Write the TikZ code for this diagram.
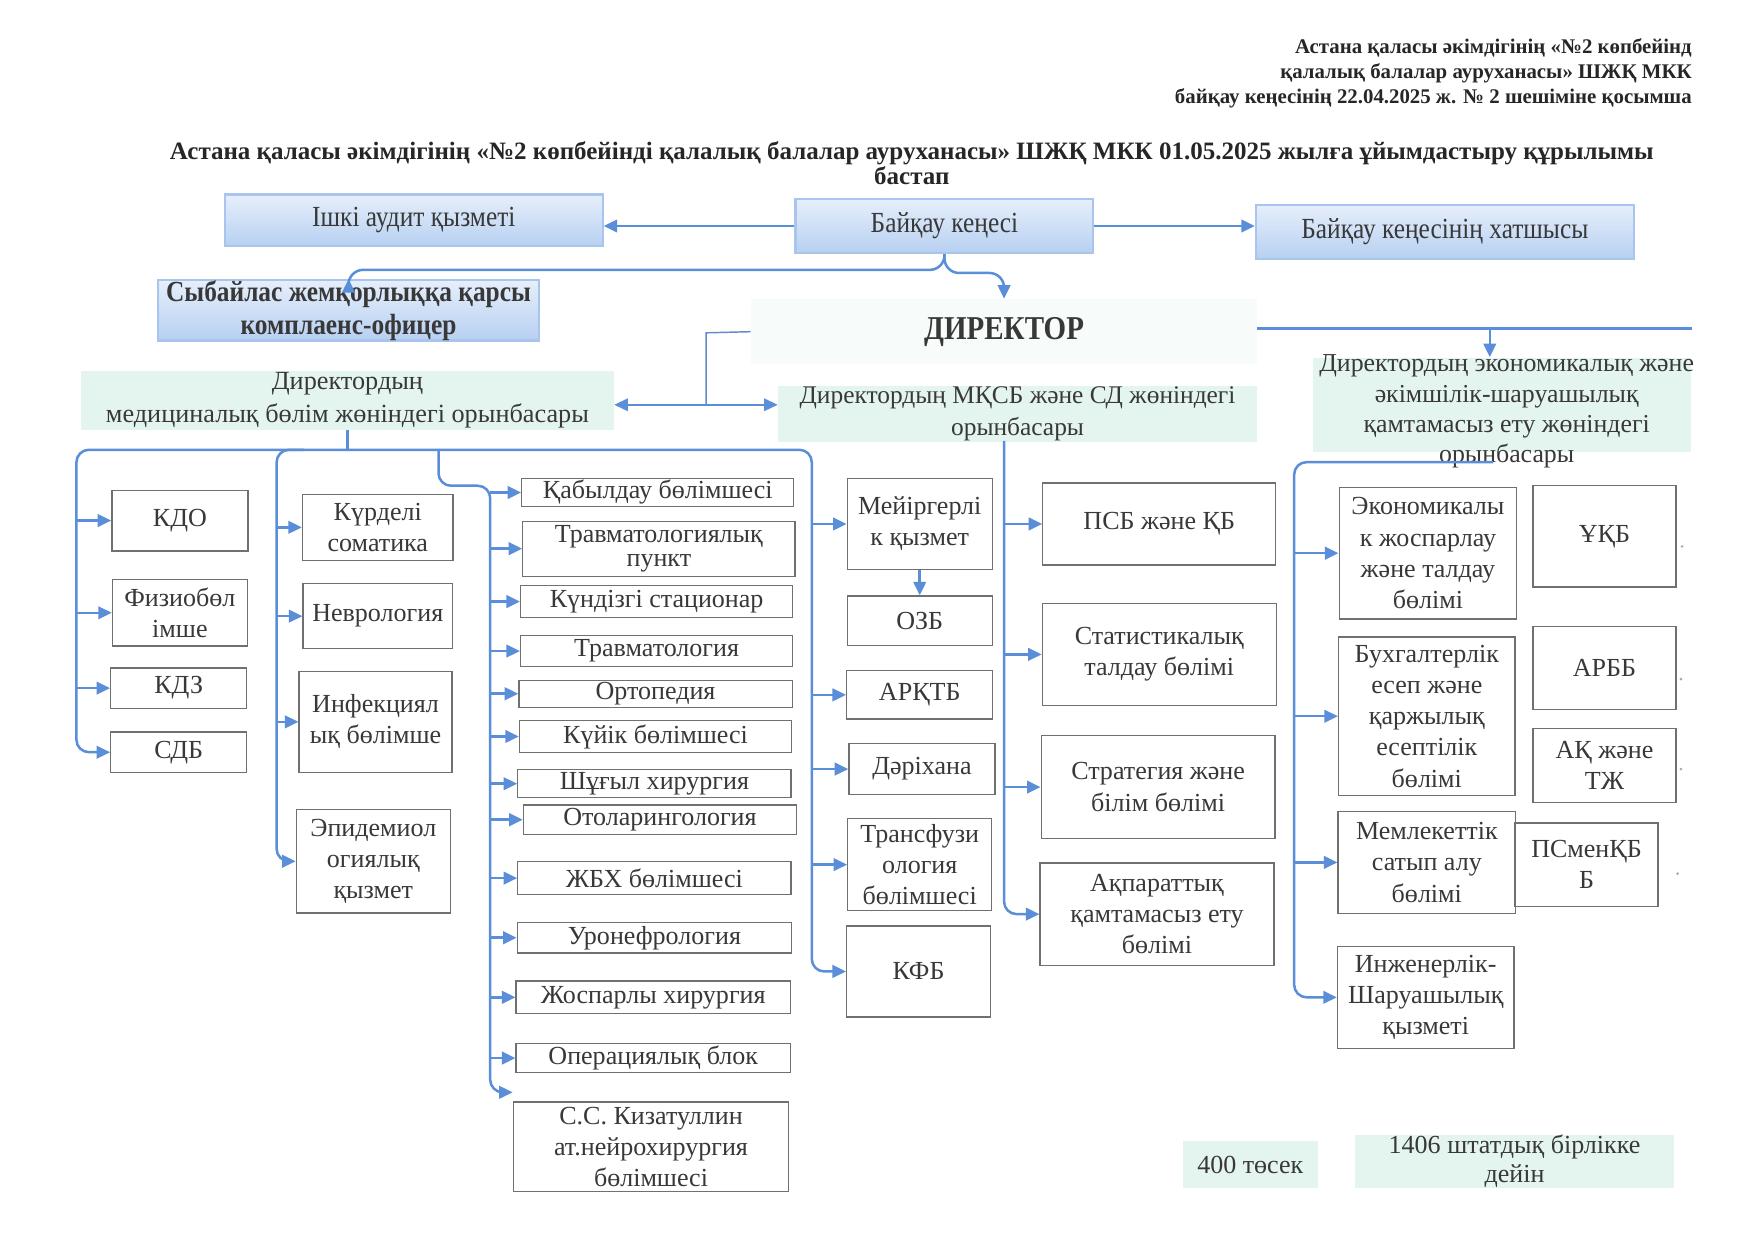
\documentclass[tikz,border=0pt]{standalone}
\usepackage{fontspec}
\setmainfont{Liberation Serif}
\newfontfamily\narrowfont[FakeStretch=0.87]{Liberation Serif}
\usetikzlibrary{arrows.meta}

\definecolor{lineblue}{HTML}{5A8ED8}
\definecolor{boxgray}{HTML}{707070}
\definecolor{txtgray}{HTML}{383838}
\definecolor{mint}{HTML}{E4F5EF}
\definecolor{skytop}{HTML}{E6EFFB}
\definecolor{skybot}{HTML}{B7D0F1}
\definecolor{skyedge}{HTML}{A9C5EE}

\tikzset{
  unit/.style 2 args={draw=boxgray, line width=0.6pt, text=txtgray, align=center,
    inner sep=0pt, minimum width=#1*0.5398pt, minimum height=#2*0.5398pt,
    font=\fontsize{12.5}{15}\selectfont},
  sky/.style 2 args={draw=skyedge, line width=1pt, top color=skytop, bottom color=skybot,
    text=txtgray, align=center, inner sep=0pt, minimum width=#1*0.5398pt,
    minimum height=#2*0.5398pt, font=\narrowfont\fontsize{14}{16}\selectfont},
  deputy/.style={text=txtgray, align=center, inner sep=0pt,
    font=\fontsize{12.6}{15.6}\selectfont},
  arr/.style={draw=lineblue, line width=1.2pt, -{Triangle[length=6.5pt,width=6pt]}},
  arrtwo/.style={draw=lineblue, line width=1.2pt,
    {Triangle[length=6.5pt,width=6pt]}-{Triangle[length=6.5pt,width=6pt]}},
  thinl/.style={draw=lineblue!85!gray, line width=0.7pt}
}

\begin{document}
\begin{tikzpicture}[x=0.5398pt, y=-0.5398pt]
  \fill[white] (0,0) rectangle (1560,1104);
  \useasboundingbox (0,0) rectangle (1560,1104);

  %header
  \node[anchor=north east, align=right, text=black!85, inner sep=0pt,
    font=\bfseries\fontsize{10}{11.9}\selectfont] (hdr) at (1505,34)
    {Астана қаласы әкімдігінің «№2 көпбейінд\\қалалық балалар ауруханасы» ШЖҚ МКК\\байқау кеңесінің 22.04.2025 ж. № 2 шешіміне қосымша};
  \node[align=center, text=black!85, inner sep=0pt,
    font=\bfseries\fontsize{12}{11.9}\selectfont] (title) at (811,145)
    {Астана қаласы әкімдігінің «№2 көпбейінді қалалық балалар ауруханасы» ШЖҚ МКК 01.05.2025 жылға ұйымдастыру құрылымы\\бастап};

  %top boxes
  \node[sky={336}{46}] (audit) at (368,196) {Ішкі аудит қызметі};
  \node[sky={265}{48}] (kenes) at (840,201) {Байқау кеңесі};
  \node[sky={336}{48}] (hatshy) at (1285,206) {Байқау кеңесінің хатшысы};
  \node[sky={339}{52}, font=\narrowfont\bfseries\fontsize{14}{16}\selectfont] (komp) at (310,276)
    {Сыбайлас жемқорлыққа қарсы\\комплаенс-офицер};

  %director and deputies
  \node[fill=mint!30, minimum width=450*0.5398pt, minimum height=58*0.5398pt, inner sep=0pt,
    text=txtgray, font=\narrowfont\bfseries\fontsize{16}{18}\selectfont] (dir) at (893,295) {ДИРЕКТОР};
  \node[deputy, fill=mint, minimum width=474*0.5398pt, minimum height=52*0.5398pt] (med) at (309,356)
    {Директордың\\медициналық бөлім жөніндегі орынбасары};
  \node[deputy, fill=mint, minimum width=426*0.5398pt, minimum height=50*0.5398pt,
    font=\fontsize{12.2}{15}\selectfont] (mksb) at (905,368)
    {Директордың МҚСБ және СД жөніндегі\\орынбасары};
  \node[fill=mint, minimum width=336*0.5398pt, minimum height=84*0.5398pt, inner sep=0pt] (econbg) at (1336,360) {};
  \node[deputy, font=\fontsize{12.4}{14.6}\selectfont] (econ) at (1340,366)
    {Директордың экономикалық және\\әкімшілік-шаруашылық\\қамтамасыз ету жөніндегі\\орынбасары};

  %medical units
  \node[unit={121}{54}] (kdo) at (160,463) {КДО};
  \node[unit={120}{59}] (fizio) at (160,545) {Физиобөл\\імше};
  \node[unit={121}{36}] (kdz) at (159,612) {КДЗ};
  \node[unit={121}{36}] (sdb) at (159,669) {СДБ};
  \node[unit={134}{59}] (kurdeli) at (336,469) {Күрделі\\соматика};
  \node[unit={133}{58}] (nevro) at (336,548) {Неврология};
  \node[unit={136}{90}] (infek) at (334,642) {Инфекциял\\ық бөлімше};
  \node[unit={137}{92}] (epid) at (332,766) {Эпидемиол\\огиялық\\қызмет};
  \node[unit={242}{25}] (kab) at (585,438) {Қабылдау бөлімшесі};
  \node[unit={242}{49}, font=\fontsize{12.5}{11.8}\selectfont] (trpunkt) at (586,488) {Травматологиялық\\пункт};
  \node[unit={242}{29}] (kunde) at (584,535) {Күндізгі стационар};
  \node[unit={242}{27}] (travm) at (584,579) {Травматология};
  \node[unit={243}{24}] (orto) at (583,617) {Ортопедия};
  \node[unit={242}{29}] (kuiik) at (583,655) {Күйік бөлімшесі};
  \node[unit={243}{25}] (shugyl) at (582,697) {Шұғыл хирургия};
  \node[unit={243}{26}] (otol) at (587,729) {Отоларингология};
  \node[unit={243}{29}] (zhbh) at (582,781) {ЖБХ бөлімшесі};
  \node[unit={244}{27}] (urone) at (582,834) {Уронефрология};
  \node[unit={244}{29}] (zhosp) at (581,887) {Жоспарлы хирургия};
  \node[unit={244}{26}] (oper) at (581,941) {Операциялық блок};
  \node[unit={245}{80}] (kiz) at (579,1020) {С.С. Кизатуллин\\ат.нейрохирургия\\бөлімшесі};
  \node[unit={129}{81}] (meir) at (818,466) {Мейіргерлі\\к қызмет};
  \node[unit={129}{44}] (ozb) at (818,552) {ОЗБ};
  \node[unit={130}{43}] (arktb) at (818,618) {АРҚТБ};
  \node[unit={130}{45}] (dari) at (820,684) {Дәріхана};
  \node[unit={128}{82}] (trans) at (818,769) {Трансфузи\\ология\\бөлімшесі};
  \node[unit={128}{81}] (kfb) at (817,864) {КФБ};

  %MKSB units
  \node[unit={207}{73}] (psb) at (1031,466) {ПСБ және ҚБ};
  \node[unit={208}{91}] (stat) at (1031,582) {Статистикалық\\талдау бөлімі};
  \node[unit={208}{92}] (strat) at (1030,700) {Стратегия және\\білім бөлімі};
  \node[unit={208}{91}] (akp) at (1029,813) {Ақпараттық\\қамтамасыз ету\\бөлімі};

  %economic units
  \node[unit={158}{117}] (ekon) at (1270,492) {Экономикалы\\к жоспарлау\\және талдау\\бөлімі};
  \node[unit={157}{141}] (buh) at (1269,637) {Бухгалтерлік\\есеп және\\қаржылық\\есептілік\\бөлімі};
  \node[unit={158}{91}] (memle) at (1269,767) {Мемлекеттік\\сатып алу\\бөлімі};
  \node[unit={157}{91}] (inzh) at (1268,887) {Инженерлік-\\Шаруашылық\\қызметі};
  \node[unit={127}{90}] (ukb) at (1427,477) {ҰҚБ};
  \node[unit={127}{74}] (arbb) at (1427,594) {АРББ};
  \node[unit={127}{66}] (akzhe) at (1427,681) {АҚ және\\ТЖ};
  \node[unit={127}{74}] (psmen) at (1411,769) {ПСменҚБ\\Б};

  %totals
  \node[fill=mint, text=txtgray, inner sep=0pt, minimum width=120*0.5398pt, minimum height=42*0.5398pt,
    font=\fontsize{12.5}{15}\selectfont] (beds) at (1112,1036) {400 төсек};
  \node[fill=mint, text=txtgray, inner sep=0pt, align=center, minimum width=283*0.5398pt,
    minimum height=42*0.5398pt, font=\fontsize{12.5}{14}\selectfont] (staff) at (1347,1033)
    {1406 штатдық бірлікке\\дейін};

  %top links
  \draw[arr] (kenes.west) -- (kenes.west -| audit.east);
  \draw[arr] (kenes.east) -- (kenes.east -| hatshy.west);
  \coordinate (brace) at (840,240);
  \draw[arr, rounded corners=7pt] (kenes.south) -- (brace) -- (brace -| komp.north) -- (komp.north);
  \draw[arr, rounded corners=7pt] (kenes.south) -- ([yshift=-1.5pt]brace) -- ([yshift=-1.5pt]brace -| dir.north) -- (dir.north);

  %director links
  \coordinate (dleft) at (628,296);
  \coordinate (dj) at (628,360);
  \draw[thinl] (dir.west) -- (dleft) -- (dj);
  \draw[arrtwo, line width=0.7pt] (med.east |- dj) -- (mksb.west |- dj);
  \coordinate (dright) at (1505,292);
  \coordinate (edown) at (1325,292);
  \draw[draw=lineblue, line width=1.2pt] (dir.east |- dright) -- (dright);
  \draw[arr] (edown) -- (edown |- econbg.north);

  %medical tree
  \coordinate (c1) at (68,400);
  \coordinate (c2) at (246,400);
  \coordinate (c3) at (390,400);
  \coordinate (c3b) at (436,432);
  \coordinate (c4) at (722,400);
  \coordinate (kiztip) at ([yshift=4.3pt]kiz.north west);
  \draw[draw=lineblue, line width=1.2pt] (med.south) -- (med.south |- c1);
  \draw[arrtwo, rounded corners=6pt] (sdb.west) -- (c1 |- sdb.west) -- (c1) -- (c4) -- (c4 |- kfb.west) -- (kfb.west);
  \draw[arr, rounded corners=6pt] ([xshift=13pt]c2) -- (c2) -- (c2 |- epid.west) -- (epid.west);
  \draw[arr, rounded corners=6pt] (c3) -- (c3 |- c3b) -- (c3b) -- (c3b |- kiztip) -- (kiztip);
  \foreach \n in {kdo,fizio,kdz}
    \draw[arr] (c1 |- \n.west) -- (\n.west);
  \foreach \n in {kurdeli,nevro,infek}
    \draw[arr] (c2 |- \n.west) -- (\n.west);
  \foreach \n in {kab,trpunkt,kunde,travm,orto,kuiik,shugyl,otol,zhbh,urone,zhosp,oper}
    \draw[arr] (c3b |- \n.west) -- (\n.west);
  \foreach \n in {meir,arktb,dari,trans}
    \draw[arr] (c4 |- \n.west) -- (\n.west);
  \draw[arr] (meir.south) -- (ozb.north);

  %MKSB tree
  \coordinate (m0) at (893,392);
  \draw[arr, rounded corners=6pt] (m0) -- (m0 |- akp.west) -- (akp.west);
  \foreach \n in {psb,stat,strat}
    \draw[arr] (m0 |- \n.west) -- (\n.west);

  %economic tree
  \coordinate (e0) at (1328,411);
  \coordinate (e1) at (1151,411);
  \draw[arr, rounded corners=6pt] (e0) -- (e1) -- (e1 |- inzh.west) -- (inzh.west);
  \foreach \n in {ekon,buh,memle}
    \draw[arr] (e1 |- \n.west) -- (\n.west);

  %marks
  \foreach \p in {(1496,486),(1495,604),(1495,684),(1492,777)}
    \fill[boxgray!60] \p circle (1.3);
\end{tikzpicture}
\end{document}
